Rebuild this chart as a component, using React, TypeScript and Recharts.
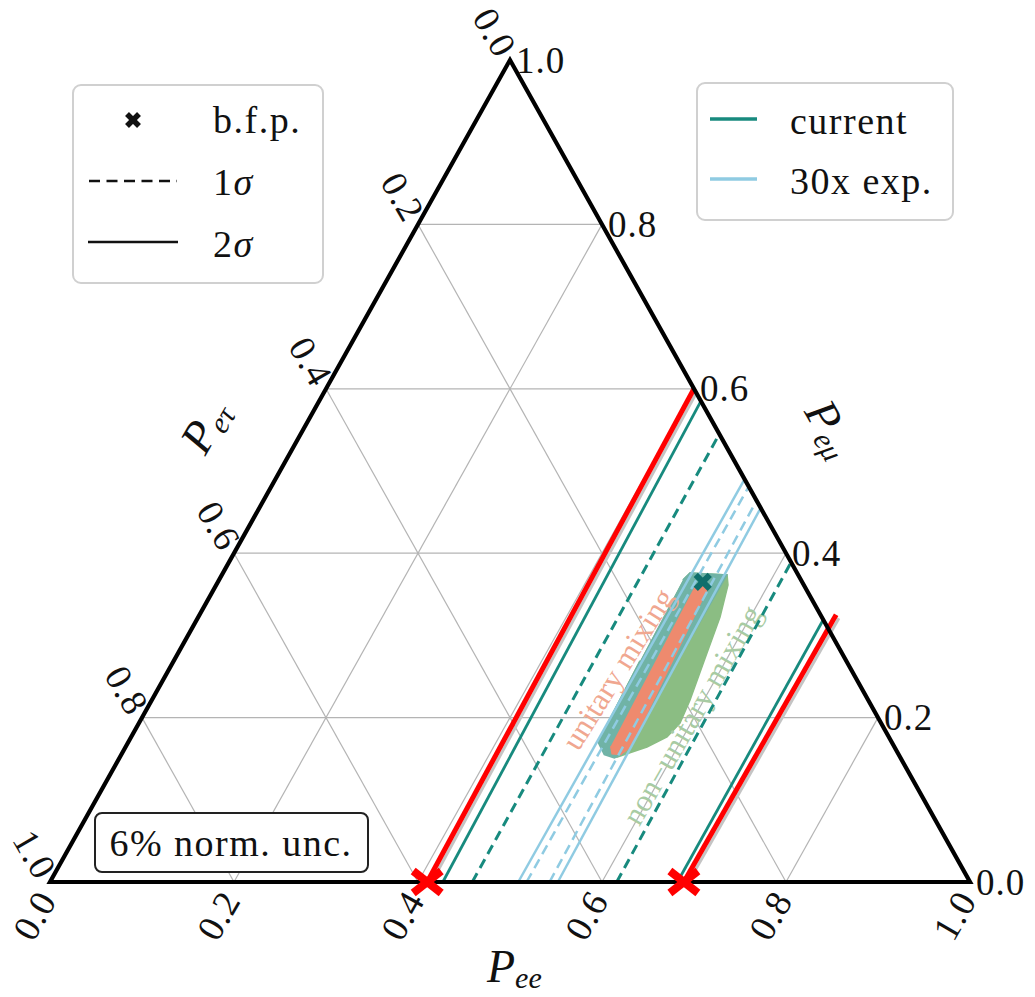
import React from 'react';
import { ScatterChart, Scatter, XAxis, YAxis } from 'recharts';

const gridLevels = [0.2, 0.4, 0.6, 0.8];
const tickValues = [0, 0.2, 0.4, 0.6, 0.8, 1];
const tickLabels = ['0.0', '0.2', '0.4', '0.6', '0.8', '1.0'];

// contours of (nearly) constant Pee: Pee at the base, Pee where the line meets the right edge
const currentSolidBase = [0.427, 0.682];
const currentSolidTop = [0.415, 0.681];
const currentDashedBase = [0.459, 0.616];
const currentDashedTop = [0.455, 0.611];
const futureSolidBase = [0.509, 0.552];
const futureSolidTop = [0.51, 0.545];
const futureDashedBase = [0.518, 0.543];
const futureDashedTop = [0.519, 0.536];

// red annotation lines
const redBasePee = [0.41, 0.689];
const redTopPee = [0.4, 0.692];
const redTopPmu = [0.6, 0.325];

const bfpPee = 0.527;
const bfpPmu = 0.365;

const nonUnitaryPee = [0.5043, 0.5077, 0.5492, 0.5563, 0.5671, 0.5748, 0.585, 0.5881, 0.5825, 0.5668, 0.5403, 0.5105, 0.5069];
const nonUnitaryPmu = [0.3674, 0.3759, 0.3735, 0.3613, 0.3224, 0.2786, 0.2214, 0.1934, 0.1764, 0.1642, 0.152, 0.1703, 0.2689];

const overlapPee = [0.5043, 0.5077, 0.549, 0.548, 0.547, 0.545, 0.538, 0.525, 0.5105, 0.5069];
const overlapPmu = [0.3674, 0.3759, 0.3735, 0.3, 0.2, 0.156, 0.151, 0.155, 0.1703, 0.2689];

const unitaryPee = [0.521, 0.528, 0.536, 0.549, 0.543, 0.533, 0.527];
const unitaryPmu = [0.36, 0.366, 0.36, 0.165, 0.155, 0.156, 0.165];

const TEAL = '#178a7e';
const LIGHT = '#8fcbe2';
const GRID = '#b4b4b4';
const RED = '#ff0000';
const FONT = "'Liberation Serif', 'DejaVu Serif', serif";

const tern = (pee: number, pmu: number) => ({ x: pee + pmu / 2, y: pmu });
const Nothing = () => <g />;

const path = (key: string, pts: { x: number; y: number }[], stroke: string, strokeWidth: number, dash?: string, closed = false) => (
  <Scatter
    key={key}
    data={pts}
    shape={Nothing}
    isAnimationActive={false}
    line={{ stroke, strokeWidth, strokeDasharray: dash, fill: 'none', strokeLinejoin: 'miter' }}
    lineJointType={closed ? 'linearClosed' : 'linear'}
  />
);

const blob = (key: string, pee: number[], pmu: number[], fill: string) => (
  <Scatter
    key={key}
    data={pee.map((p, i) => tern(p, pmu[i]))}
    shape={Nothing}
    isAnimationActive={false}
    line={{ fill, stroke: fill, strokeWidth: 1.5 }}
    lineJointType="catmullRomClosed"
  />
);

// lines ending on the right edge (Pee + Pmu = 1)
const edgeLines = (key: string, base: number[], top: number[], stroke: string, w: number, dash?: string) =>
  base.map((b, i) => path(`${key}${i}`, [tern(b, 0), tern(top[i], 1 - top[i])], stroke, w, dash));

const gridSegs: { x: number; y: number }[][] = [];
gridLevels.forEach((v) => {
  gridSegs.push([tern(0, v), tern(1 - v, v)]);
  gridSegs.push([tern(v, 0), tern(v, 1 - v)]);
  gridSegs.push([tern(1 - v, 0), tern(0, 1 - v)]);
});

const bottomTicks = tickValues.map((v, i) => ({ ...tern(v, 0), label: tickLabels[i] }));
const rightTicks = tickValues.map((v, i) => ({ ...tern(1 - v, v), label: tickLabels[i] }));
const leftTicks = tickValues.map((v, i) => ({ ...tern(0, 1 - v), label: tickLabels[i] }));

const tickText = (dx: number, dy: number, rot: number, anchor: 'start' | 'end') => (p: any) => {
  const x = p.cx + dx;
  const y = p.cy + dy;
  return (
    <text x={x} y={y} transform={rot ? `rotate(${rot} ${x} ${y})` : undefined} textAnchor={anchor}
      dominantBaseline="central" fontFamily={FONT} fontSize={37} letterSpacing={1} fill="#111">
      {p.payload.label}
    </text>
  );
};

const regionLabels = [
  { ...tern(0.4878, 0.2591), label: 'unitary mixing', color: '#f0a790', rot: -58 },
  { ...tern(0.5962, 0.2032), label: 'non\u2212unitary mixing', color: '#a8cba3', rot: -60 },
];

const RegionLabel = (p: any) => (
  <text x={p.cx} y={p.cy} transform={`rotate(${p.payload.rot} ${p.cx} ${p.cy})`} textAnchor="middle"
    dominantBaseline="central" fontFamily={FONT} fontSize={31} fill={p.payload.color}>
    {p.payload.label}
  </text>
);

const BfpMark = (p: any) => (
  <g stroke="#0f6f6c" strokeWidth={6}>
    <line x1={p.cx - 7} y1={p.cy - 7} x2={p.cx + 7} y2={p.cy + 7} />
    <line x1={p.cx - 7} y1={p.cy + 7} x2={p.cx + 7} y2={p.cy - 7} />
  </g>
);

const RedMark = (p: any) => (
  <g stroke={RED} strokeWidth={8}>
    <line x1={p.cx - 14} y1={p.cy - 11} x2={p.cx + 14} y2={p.cy + 11} />
    <line x1={p.cx - 14} y1={p.cy + 11} x2={p.cx + 14} y2={p.cy - 11} />
  </g>
);

export default function App() {
  return (
    <div style={{ position: 'absolute', left: 0, top: 0, width: 1035, height: 997, background: '#fff' }}>
      <ScatterChart width={1035} height={997} margin={{ top: 60, right: 65, bottom: 115, left: 50 }}>
        <XAxis type="number" dataKey="x" domain={[0, 1]} hide />
        <YAxis type="number" dataKey="y" domain={[0, 1]} hide />
        {gridSegs.map((s, i) => path(`g${i}`, s, GRID, 1.2))}
        {blob('nu', nonUnitaryPee, nonUnitaryPmu, '#8bbd83')}
        {blob('ov', overlapPee, overlapPmu, '#70b3a6')}
        {blob('un', unitaryPee, unitaryPmu, '#ee8a6e')}
        <Scatter data={regionLabels} shape={RegionLabel} isAnimationActive={false} />
        {edgeLines('fs', futureSolidBase, futureSolidTop, LIGHT, 2.5)}
        {edgeLines('fd', futureDashedBase, futureDashedTop, LIGHT, 2.5, '10 6')}
        {edgeLines('cd', currentDashedBase, currentDashedTop, TEAL, 3, '10 6')}
        {edgeLines('cs', currentSolidBase, currentSolidTop, TEAL, 2.8)}
        {redBasePee.map((b, i) => path(`rs${i}`, [tern(b + 0.005, 0), tern(redTopPee[i] + 0.005, redTopPmu[i] - 0.004)], '#c4c4c4', 3))}
        {redBasePee.map((b, i) => path(`r${i}`, [tern(b, 0), tern(redTopPee[i], redTopPmu[i])], RED, 5))}
        {path('tri', [tern(0, 0), tern(1, 0), tern(0, 1)], '#000', 4.2, undefined, true)}
        <Scatter data={[tern(bfpPee, bfpPmu)]} shape={BfpMark} isAnimationActive={false} />
        <Scatter data={redBasePee.map((b) => tern(b, 0))} shape={RedMark} isAnimationActive={false} />
        <Scatter data={bottomTicks} shape={tickText(-3, 12, -60, 'end')} isAnimationActive={false} />
        <Scatter data={leftTicks} shape={tickText(-3, -6, 60, 'end')} isAnimationActive={false} />
        <Scatter data={rightTicks} shape={tickText(6, 0, 0, 'start')} isAnimationActive={false} />
      </ScatterChart>

      <svg width={1035} height={997} style={{ position: 'absolute', left: 0, top: 0, pointerEvents: 'none' }}>
        <g fontFamily={FONT} fill="#111" fontSize={38} letterSpacing={1.5}>
          <rect x={73} y={85} width={250} height={198} rx={8} fill="#fff" stroke="#d0d0d0" strokeWidth={2} />
          <g stroke="#111" strokeWidth={5.5}>
            <line x1={127} y1={114} x2={139} y2={126} />
            <line x1={127} y1={126} x2={139} y2={114} />
          </g>
          <text x={213} y={120} dominantBaseline="central">b.f.p.</text>
          <line x1={89} x2={177} y1={181} y2={181} stroke="#111" strokeWidth={2.5} strokeDasharray="11 6.5" />
          <text x={213} y={182} dominantBaseline="central">1<tspan fontStyle="italic">σ</tspan></text>
          <line x1={88} x2={178} y1={242} y2={242} stroke="#111" strokeWidth={2.5} />
          <text x={213} y={244} dominantBaseline="central">2<tspan fontStyle="italic">σ</tspan></text>

          <rect x={697} y={83} width={256} height={137} rx={8} fill="#fff" stroke="#d0d0d0" strokeWidth={2} />
          <line x1={710} x2={757} y1={119} y2={119} stroke={TEAL} strokeWidth={3.5} />
          <text x={790} y={121} dominantBaseline="central">current</text>
          <line x1={710} x2={757} y1={179} y2={179} stroke={LIGHT} strokeWidth={3.5} />
          <text x={790} y={181} dominantBaseline="central">30x exp.</text>

          <rect x={95} y={813} width={273} height={59} rx={7} fill="#fff" stroke="#222" strokeWidth={2} />
          <text x={231} y={843} textAnchor="middle" dominantBaseline="central">6% norm. unc.</text>

          <text x={487} y={982} fontSize={46} fontStyle="italic" letterSpacing={0}>
            P<tspan fontSize={30} dy={6}>ee</tspan>
          </text>
          <g transform="translate(828 430) rotate(60)">
            <text x={0} y={12} textAnchor="middle" fontSize={46} fontStyle="italic" letterSpacing={0}>
              P<tspan fontSize={30} dy={6}>eμ</tspan>
            </text>
          </g>
          <g transform="translate(208 428) rotate(-60)">
            <text x={0} y={12} textAnchor="middle" fontSize={46} fontStyle="italic" letterSpacing={0}>
              P<tspan fontSize={30} dy={6}>eτ</tspan>
            </text>
          </g>
        </g>
      </svg>
    </div>
  );
}
